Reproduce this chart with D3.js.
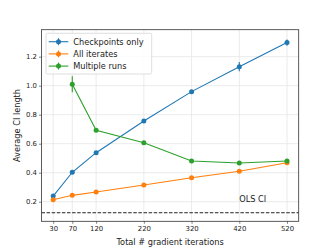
<!DOCTYPE html>
<html>
<head>
<meta charset="utf-8">
<script src="https://cdn.jsdelivr.net/npm/d3@7"></script>
<style>
  body { margin: 0; background: #fff; }
  svg { font-family: "DejaVu Sans", sans-serif; }
</style>
</head>
<body>
<div id="plot-box"></div>
<script>
// data
const iterations = [30, 70, 120, 220, 320, 420, 520];
const checkpoints = [0.239, 0.403, 0.538, 0.757, 0.959, 1.131, 1.297];
const checkpointsErr = [0.01, 0.01, 0.01, 0.01, 0.01, 0.032, 0.022];
const allIterates = [0.214, 0.244, 0.267, 0.315, 0.365, 0.41, 0.469];
const allIteratesErr = [0.005, 0.005, 0.005, 0.005, 0.005, 0.006, 0.006];
const multiIters = [70, 120, 220, 320, 420, 520];
const multipleRuns = [1.01, 0.692, 0.607, 0.481, 0.467, 0.481];
const multipleRunsErr = [0.055, 0.008, 0.006, 0.005, 0.005, 0.006];
const olsCI = 0.124;
const yTicks = [0.2, 0.4, 0.6, 0.8, 1.0, 1.2];

const series = [
  {name: "Checkpoints only", color: "#1f77b4", x: iterations, y: checkpoints, err: checkpointsErr},
  {name: "All iterates", color: "#ff7f0e", x: iterations, y: allIterates, err: allIteratesErr},
  {name: "Multiple runs", color: "#2ca02c", x: multiIters, y: multipleRuns, err: multipleRunsErr}
];

const width = 332, height = 249;
const margin = {top: 29.7, right: 33.3, bottom: 27.7, left: 41.5};
const iw = width - margin.left - margin.right,
      ih = height - margin.top - margin.bottom;
const fs = 8.2, tfs = 6.9;

const svg = d3.select("#plot-box").append("svg")
    .attr("width", width)
    .attr("height", height);
const g = svg.append("g")
    .attr("transform", `translate(${margin.left},${margin.top})`);

const x = d3.scaleLinear().domain([5.5, 544.5]).range([0, iw]);
const y = d3.scaleLinear().domain([0.065, 1.386]).range([ih, 0]);

// grid
g.append("g").selectAll("line").data(iterations).enter().append("line")
    .attr("x1", d => x(d)).attr("x2", d => x(d))
    .attr("y1", 0).attr("y2", ih)
    .attr("stroke", "#e6e6e6").attr("stroke-width", 0.8);
g.append("g").selectAll("line").data(yTicks).enter().append("line")
    .attr("y1", d => y(d)).attr("y2", d => y(d))
    .attr("x1", 0).attr("x2", iw)
    .attr("stroke", "#e6e6e6").attr("stroke-width", 0.8);

// axes
const xAxis = d3.axisBottom(x).tickValues(iterations).tickSize(2.5).tickPadding(2);
const yAxis = d3.axisLeft(y).tickValues(yTicks).tickFormat(d3.format(".1f")).tickSize(2.5).tickPadding(2);
const gx = g.append("g").attr("transform", `translate(0,${ih})`).call(xAxis);
const gy = g.append("g").call(yAxis);
[gx, gy].forEach(a => {
  a.select(".domain").remove();
  a.selectAll("text").attr("font-size", tfs).attr("fill", "#222").attr("font-family", "DejaVu Sans");
  a.selectAll("line").attr("stroke", "#333").attr("stroke-width", 0.6);
});

// OLS dashed line
g.append("line")
    .attr("x1", 0).attr("x2", iw)
    .attr("y1", y(olsCI)).attr("y2", y(olsCI))
    .attr("stroke", "#222").attr("stroke-width", 1)
    .attr("stroke-dasharray", "3.5,1.6");
g.append("text")
    .attr("x", x(420)).attr("y", y(0.2) + 0.5)
    .attr("font-size", fs).attr("fill", "#222")
    .text("OLS CI");

// series
const line = d3.line();
series.forEach(s => {
  const pts = s.x.map((v, i) => [x(v), y(s.y[i]), s.err[i]]);
  g.append("path")
      .attr("d", line(pts.map(p => [p[0], p[1]])))
      .attr("fill", "none").attr("stroke", s.color).attr("stroke-width", 1.1);
  g.append("g").selectAll("line").data(s.x.map((v, i) => i)).enter().append("line")
      .attr("x1", i => x(s.x[i])).attr("x2", i => x(s.x[i]))
      .attr("y1", i => y(s.y[i] - s.err[i])).attr("y2", i => y(s.y[i] + s.err[i]))
      .attr("stroke", s.color).attr("stroke-width", 1.1);
  g.append("g").selectAll("circle").data(pts).enter().append("circle")
      .attr("cx", p => p[0]).attr("cy", p => p[1]).attr("r", 2.5)
      .attr("fill", s.color);
});

// frame
g.append("rect")
    .attr("width", iw).attr("height", ih)
    .attr("fill", "none").attr("stroke", "#333").attr("stroke-width", 0.8);

// legend
const lg = g.append("g").attr("transform", "translate(4.5,3.6)");
lg.append("rect")
    .attr("width", 105.7).attr("height", 40.7).attr("rx", 1.5)
    .attr("fill", "#fff").attr("fill-opacity", 0.8)
    .attr("stroke", "#d5d5d5").attr("stroke-width", 0.8);
series.forEach((s, i) => {
  const yy = 8.4 + i * 12.2;
  lg.append("line").attr("x1", 2.7).attr("x2", 22.3).attr("y1", yy).attr("y2", yy)
      .attr("stroke", s.color).attr("stroke-width", 1.1);
  lg.append("line").attr("x1", 12.5).attr("x2", 12.5).attr("y1", yy - 3.5).attr("y2", yy + 3.5)
      .attr("stroke", s.color).attr("stroke-width", 1.1);
  lg.append("circle").attr("cx", 12.5).attr("cy", yy).attr("r", 2.5).attr("fill", s.color);
  lg.append("text").attr("x", 27.3).attr("y", yy).attr("dy", "0.35em")
      .attr("font-size", fs).attr("fill", "#222").text(s.name);
});

// axis labels
svg.append("text")
    .attr("x", margin.left + iw / 2).attr("y", 244.5)
    .attr("text-anchor", "middle").attr("font-size", fs).attr("fill", "#222")
    .text("Total # gradient iterations");
svg.append("text")
    .attr("transform", `translate(19.5,${margin.top + ih / 2}) rotate(-90)`)
    .attr("text-anchor", "middle").attr("font-size", fs).attr("fill", "#222")
    .text("Average CI length");
</script>
</body>
</html>
